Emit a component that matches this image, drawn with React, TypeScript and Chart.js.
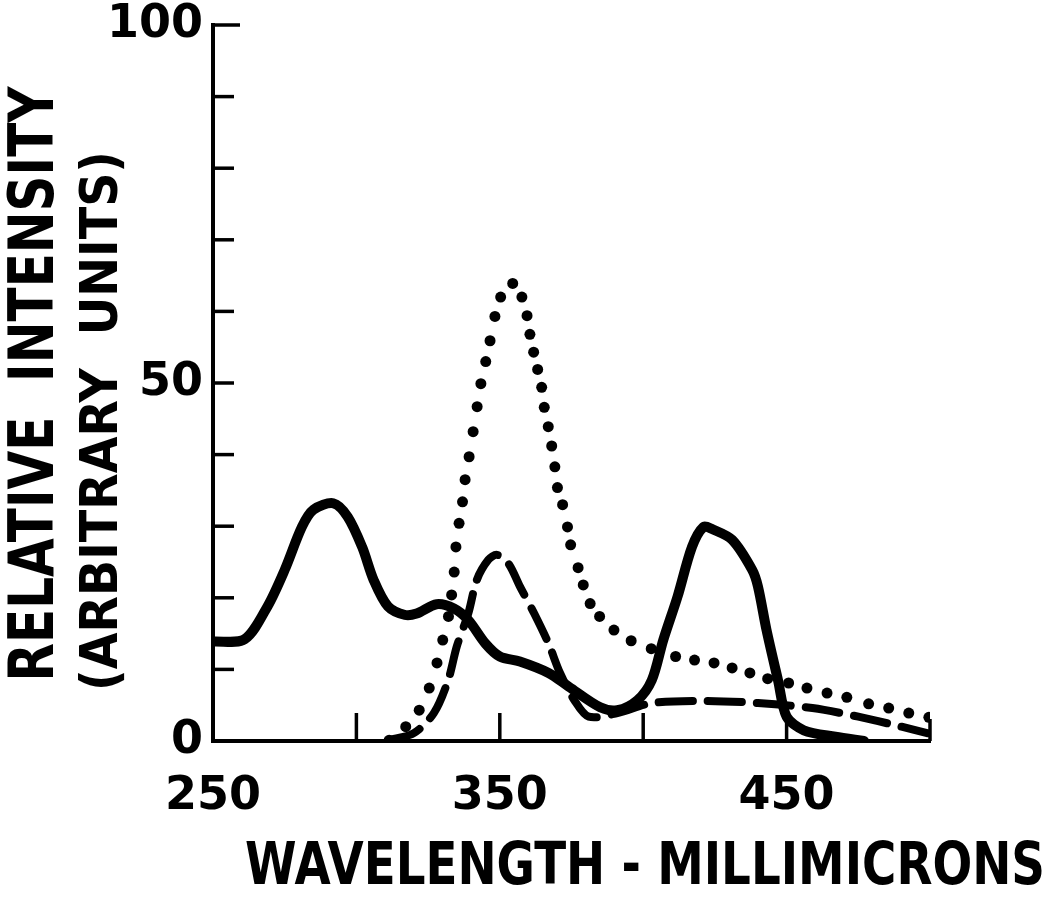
import React, { useEffect, useRef } from "react";
import { Chart, registerables } from "chart.js";

Chart.register(...registerables);

// Solid curve
const solidX = [250, 261, 269, 275, 281, 285, 292, 297, 302, 306, 311, 317, 321, 328, 334, 339, 345, 350, 357, 367, 374, 385, 391, 398, 403, 407, 412, 417, 421, 424, 431, 438, 440, 443, 447, 450, 456, 467, 477];
const solidY = [13.9, 14.2, 18.8, 23.9, 29.9, 32.3, 33.2, 31.3, 27.1, 22.5, 18.8, 17.6, 17.8, 19.1, 18.5, 16.9, 13.6, 11.8, 11.1, 9.5, 7.6, 4.7, 4.3, 5.7, 8.5, 14.1, 20.2, 27.1, 29.9, 29.6, 28.1, 23.9, 21.6, 15.5, 8.5, 3.4, 1.5, 0.6, 0];

// Dashed curve
const dashX = [311, 320, 327, 332, 335, 339, 342, 346, 349, 353, 357, 362, 367, 371, 376, 381, 391, 403, 421, 440, 459, 475, 490, 499];
const dashY = [0.1, 1.1, 3.9, 8.5, 13.2, 17.8, 22.5, 25.3, 26.0, 24.8, 21.6, 17.8, 13.6, 9.5, 5.7, 3.4, 3.9, 5.3, 5.6, 5.3, 4.6, 3.4, 2.0, 1.1];

// Dotted curve (each dot)
const dotX = [311.4, 317.2, 321.9, 325.4, 328.1, 330.1, 332.1, 333.2, 334.1, 334.7, 335.8, 337, 337.9, 339.3, 340.7, 342.1, 343.4, 345.1, 346.6, 348.3, 350.3, 354.5, 357.7, 359.5, 360.5, 361.8, 363.2, 364.6, 365.5, 366.9, 368.1, 369.2, 370.1, 371.9, 373.6, 374.7, 377.3, 379.1, 381.5, 384.8, 389.8, 395.8, 402.8, 411.3, 417.9, 424.7, 431, 437.2, 443.4, 450.7, 457.1, 464.1, 471, 478.6, 485.6, 492.6, 499.6];
const dotY = [0.1, 2.0, 4.3, 7.4, 10.9, 14.1, 17.4, 20.4, 23.6, 27.1, 30.4, 33.4, 36.5, 39.7, 43.2, 46.7, 49.9, 53.0, 55.9, 59.3, 62.0, 63.9, 62.0, 59.4, 56.8, 54.3, 51.9, 49.4, 46.6, 43.9, 41.2, 38.3, 35.4, 33.0, 29.9, 27.4, 24.2, 21.8, 19.2, 17.4, 15.5, 14.0, 12.9, 11.8, 11.3, 10.9, 10.2, 9.5, 8.7, 8.1, 7.4, 6.7, 6.1, 5.2, 4.6, 3.9, 3.3];

const xTickLabels = [250, 350, 450];
const yTickLabels = [0, 50, 100];
const xTickMarks = [300, 350, 400, 450, 500];
const yTickMarks = [10, 20, 30, 40, 50, 60, 70, 80, 90, 100];

const xTitle = "WAVELENGTH - MILLIMICRONS";
const yTitle1 = "RELATIVE  INTENSITY";
const yTitle2 = "(ARBITRARY  UNITS)";

const toPts = (xs: number[], ys: number[]) => xs.map((x, i) => ({ x, y: ys[i] }));

const decorPlugin = {
  id: "decor",
  afterDraw(chart: any) {
    const ctx = chart.ctx;
    const xs = chart.scales.x;
    const ys = chart.scales.y;
    const x0 = xs.getPixelForValue(250);
    const y0 = ys.getPixelForValue(0);
    ctx.save();
    ctx.strokeStyle = "#000";
    ctx.lineWidth = 3.5;
    ctx.lineCap = "butt";
    yTickMarks.forEach((v) => {
      const py = ys.getPixelForValue(v);
      ctx.beginPath();
      ctx.moveTo(x0, py);
      ctx.lineTo(x0 + (v === 100 ? 27 : 21), py);
      ctx.stroke();
    });
    xTickMarks.forEach((v) => {
      const px = xs.getPixelForValue(v);
      ctx.beginPath();
      ctx.moveTo(px, y0);
      ctx.lineTo(px, y0 - (v === 500 ? 22 : 28));
      ctx.stroke();
    });
    ctx.fillStyle = "#000";
    ctx.textAlign = "center";
    ctx.textBaseline = "middle";
    ctx.font = "bold 58px 'DejaVu Sans'";
    ctx.fillText(xTitle, 645, 869, 800);
    ctx.save();
    ctx.translate(37, 384);
    ctx.rotate(-Math.PI / 2);
    ctx.font = "bold 62px 'DejaVu Sans'";
    ctx.fillText(yTitle1, 0, 0, 595);
    ctx.restore();
    ctx.save();
    ctx.translate(103, 421);
    ctx.rotate(-Math.PI / 2);
    ctx.font = "bold 52px 'DejaVu Sans'";
    ctx.fillText(yTitle2, 0, 0, 540);
    ctx.restore();
    ctx.restore();
  },
};

export default function App() {
  const ref = useRef<HTMLCanvasElement | null>(null);
  useEffect(() => {
    if (!ref.current) return;
    const chart = new Chart(ref.current, {
      type: "line",
      data: {
        datasets: [
          {
            label: "solid",
            data: toPts(solidX, solidY),
            borderColor: "#000",
            borderWidth: 10,
            pointRadius: 0,
            tension: 0.3,
            borderCapStyle: "round",
            borderJoinStyle: "round",
            fill: false,
          },
          {
            label: "dashed",
            data: toPts(dashX, dashY),
            borderColor: "#000",
            borderWidth: 8,
            borderDash: [34, 15],
            borderCapStyle: "round",
            pointRadius: 0,
            tension: 0.3,
            fill: false,
          },
          {
            label: "dotted",
            data: toPts(dotX, dotY),
            showLine: false,
            pointRadius: 5.5,
            pointBackgroundColor: "#000",
            pointBorderWidth: 0,
            borderColor: "#000",
          },
        ],
      },
      options: {
        animation: false,
        responsive: false,
        layout: { padding: { top: 25, right: 127, left: 0, bottom: 0 } },
        plugins: { legend: { display: false }, tooltip: { enabled: false } },
        scales: {
          x: {
            type: "linear",
            min: 250,
            max: 500,
            afterFit: (s: any) => {
              s.height = 164;
              s.paddingLeft = 0;
              s.paddingRight = 0;
            },
            grid: { display: true, drawOnChartArea: false, drawTicks: false },
            border: { display: true, color: "#000", width: 4 },
            ticks: {
              stepSize: 50,
              color: "#000",
              padding: 28,
              font: { family: "'DejaVu Sans'", weight: "bold", size: 46 },
              maxRotation: 0,
              autoSkip: false,
              callback: (v: any) => (xTickLabels.includes(Number(v)) ? String(v) : ""),
            },
          },
          y: {
            min: 0,
            max: 100,
            afterFit: (s: any) => {
              s.width = 213;
              s.paddingTop = 0;
              s.paddingBottom = 0;
            },
            grid: { display: true, drawOnChartArea: false, drawTicks: false },
            border: { display: true, color: "#000", width: 4 },
            ticks: {
              stepSize: 10,
              color: "#000",
              padding: 10,
              font: { family: "'DejaVu Sans'", weight: "bold", size: 46 },
              autoSkip: false,
              callback: (v: any) => (yTickLabels.includes(Number(v)) ? String(v) : ""),
            },
          },
        },
      },
      plugins: [decorPlugin],
    } as any);
    return () => chart.destroy();
  }, []);
  return (
    <div style={{ position: "absolute", left: 0, top: 0, width: 1057, height: 905, background: "#fff" }}>
      <canvas ref={ref} width={1057} height={905} style={{ display: "block" }} />
    </div>
  );
}
